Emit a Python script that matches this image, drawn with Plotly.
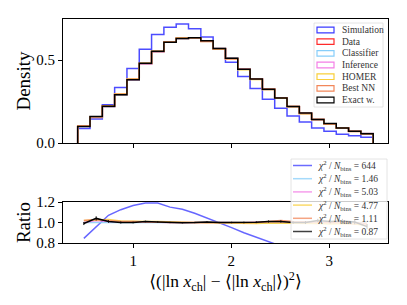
import numpy as np
import plotly.graph_objects as go

# ---------------- data ----------------
bin_edges = np.linspace(0.433, 3.449, 25)

names = ["Simulation", "Data", "Classifier", "Inference", "HOMER", "Best NN", "Exact w."]
colors = ["rgba(0,0,255,0.7)", "rgba(255,0,0,0.8)", "#87CEFA", "#F47FE6", "#F9CF3A", "#F2875A", "black"]
legend_colors = ["#3a3aff", "#ff2a2a", "#87CEFA", "#F47FE6", "#F9CF3A", "#F2875A", "black"]

sim = [0.087, 0.144, 0.231, 0.334, 0.449, 0.565, 0.654, 0.698, 0.717, 0.688, 0.638, 0.567,
       0.486, 0.401, 0.328, 0.263, 0.209, 0.162, 0.126, 0.091, 0.071, 0.053, 0.043, 0.034]
data = [0.101, 0.154, 0.219, 0.291, 0.381, 0.476, 0.549, 0.607, 0.630, 0.634, 0.613, 0.569,
        0.510, 0.445, 0.385, 0.322, 0.271, 0.219, 0.178, 0.142, 0.115, 0.091, 0.071, 0.057]
classifier = [0.101, 0.153, 0.219, 0.291, 0.381, 0.476, 0.550, 0.607, 0.630, 0.634, 0.613, 0.570,
              0.510, 0.445, 0.384, 0.322, 0.270, 0.219, 0.178, 0.142, 0.115, 0.091, 0.071, 0.057]
inference = [0.101, 0.156, 0.221, 0.293, 0.383, 0.478, 0.551, 0.608, 0.631, 0.634, 0.612, 0.568,
             0.508, 0.444, 0.386, 0.324, 0.272, 0.219, 0.177, 0.141, 0.115, 0.090, 0.070, 0.056]
homer = [0.103, 0.158, 0.225, 0.295, 0.385, 0.480, 0.552, 0.609, 0.632, 0.634, 0.612, 0.567,
         0.507, 0.442, 0.383, 0.322, 0.270, 0.218, 0.176, 0.141, 0.114, 0.090, 0.070, 0.055]
bestnn = [0.103, 0.158, 0.223, 0.294, 0.384, 0.479, 0.551, 0.608, 0.631, 0.634, 0.613, 0.568,
          0.508, 0.444, 0.385, 0.325, 0.273, 0.221, 0.179, 0.142, 0.115, 0.091, 0.071, 0.056]
exact = [0.100, 0.160, 0.221, 0.291, 0.381, 0.481, 0.552, 0.607, 0.630, 0.634, 0.616, 0.569,
         0.510, 0.445, 0.385, 0.324, 0.271, 0.220, 0.180, 0.142, 0.117, 0.091, 0.071, 0.055]
hists = [sim, data, classifier, inference, homer, bestnn, exact]

ratio_sim = [0.845, 0.96, 1.07, 1.125, 1.165, 1.19, 1.19, 1.15, 1.13, 1.09, 1.045, 1.0,
             0.95, 0.90, 0.855, 0.81, 0.77, 0.74, 0.71, 0.64, 0.62, 0.58, 0.60, 0.60]
ratio_classifier = [1.0, 1.0, 1.0, 1.0, 1.0, 1.0, 1.0, 1.0, 1.0, 1.0, 1.0, 1.0,
                    1.0, 1.0, 0.998, 1.0, 0.998, 1.0, 1.0, 1.0, 1.0, 1.0, 1.0, 1.0]
ratio_inference = [1.0, 1.02, 1.01, 1.005, 1.005, 1.005, 1.0, 1.0, 1.0, 1.0, 1.0, 0.998,
                   0.995, 0.998, 1.003, 1.005, 1.003, 1.0, 0.995, 0.99, 1.0, 0.99, 0.985, 0.98]
ratio_homer = [1.02, 1.025, 1.03, 1.015, 1.01, 1.01, 1.01, 1.005, 1.003, 1.0, 0.998, 0.995,
               0.995, 0.993, 0.99, 0.995, 0.995, 0.995, 0.99, 0.99, 0.985, 0.99, 0.985, 0.97]
ratio_bestnn = [1.02, 1.03, 1.02, 1.01, 1.01, 1.005, 1.005, 1.0, 1.0, 1.0, 1.0, 1.0,
                1.0, 1.0, 1.0, 1.01, 1.02, 1.01, 1.005, 1.0, 1.0, 1.0, 1.0, 0.99]
ratio_exact = [0.99, 1.04, 1.01, 1.0, 1.0, 1.01, 1.005, 1.0, 0.998, 1.0, 1.005, 1.0,
               1.0, 1.0, 1.003, 1.01, 1.01, 1.0, 1.0, 1.02, 1.01, 1.015, 1.005, 0.96]
ratio_exact_err = [0.015, 0.02, 0.012, 0.01, 0.008, 0.007, 0.006, 0.006, 0.006, 0.006, 0.006, 0.006,
                   0.007, 0.008, 0.009, 0.01, 0.011, 0.012, 0.014, 0.016, 0.018, 0.02, 0.022, 0.025]
ratios = [ratio_sim, ratio_classifier, ratio_inference, ratio_homer, ratio_bestnn, ratio_exact]
ratio_idx = [0, 2, 3, 4, 5, 6]
chi2 = ["644", "1.46", "5.03", "4.77", "1.11", "0.87"]

# ---------------- layout helpers ----------------
W, H = 407, 305
L, R, T, B = 63, 388, 19, 243   # plot area in pixels
def px2x(p):
    return (p - L) / (R - L)
def px2y(p):
    return (B - p) / (B - T)

FONT = "Liberation Serif, DejaVu Serif, serif"

fig = go.Figure()
centers = 0.5 * (bin_edges[:-1] + bin_edges[1:])

for name, col, h in zip(names, colors, hists):
    xs = [bin_edges[0]] + list(bin_edges) + [bin_edges[-1]]
    ys = [0] + list(h) + [h[-1], 0]
    fig.add_trace(go.Scatter(x=xs, y=ys, mode="lines", line=dict(color=col, width=1.5, shape="hv"),
                             name=name, showlegend=False, xaxis="x", yaxis="y"))

for k, (r, i) in enumerate(zip(ratios, ratio_idx)):
    extra = {}
    if names[i] == "Exact w.":
        extra = dict(error_y=dict(type="data", array=ratio_exact_err, color="black", thickness=1, width=0))
    fig.add_trace(go.Scatter(x=centers, y=r, mode="lines", line=dict(color=colors[i], width=1.5),
                             opacity=0.85 if i != 6 else 1.0,
                             name=names[i], showlegend=False, xaxis="x2", yaxis="y2", **extra))

axis_common = dict(showline=True, linecolor="black", linewidth=1, mirror=True, ticks="outside",
                   ticklen=4, tickcolor="black", showgrid=False, zeroline=False,
                   tickfont=dict(family=FONT, size=15, color="black"))

top_dom = [px2y(143), 1.0]
bot_dom = [0.0, px2y(202)]

fig.update_layout(
    width=W, height=H, margin=dict(l=L, r=W - R, t=T, b=H - B),
    paper_bgcolor="white", plot_bgcolor="white",
    font=dict(family=FONT, color="black"),
    xaxis=dict(domain=[0, 1], range=[0.283, 3.6], tickvals=[1, 2, 3], showticklabels=False,
               anchor="y", automargin=False, **axis_common),
    yaxis=dict(domain=top_dom, range=[0, 0.747], tickvals=[0, 0.5], ticktext=["0.0", "0.5"],
               title=dict(text="Density", font=dict(family=FONT, size=19), standoff=0),
               anchor="x", automargin=True, **axis_common),
    xaxis2=dict(domain=[0, 1], range=[0.283, 3.6], tickvals=[1, 2, 3], ticktext=["1", "2", "3"],
                anchor="y2", matches="x", automargin=False,
                title=dict(text="⟨(|ln <i>x</i><sub>ch</sub>| − ⟨|ln <i>x</i><sub>ch</sub>|⟩)<sup>2</sup>⟩",
                           font=dict(family=FONT, size=17.5), standoff=2),
                **axis_common),
    yaxis2=dict(domain=bot_dom, range=[0.8, 1.2], tickvals=[0.8, 1.0, 1.2], ticktext=["0.8", "1.0", "1.2"],
                title=dict(text="Ratio", font=dict(family=FONT, size=19), standoff=0),
                anchor="x2", automargin=True, **axis_common),
)

shapes = []
annotations = []

# top legend (manual, to match matplotlib's compact spacing)
shapes.append(dict(type="rect", xref="paper", yref="paper", x0=px2x(314), x1=px2x(383),
                   y0=px2y(107), y1=px2y(23), line=dict(color="#dddddd", width=0.8),
                   fillcolor="rgba(255,255,255,0.8)", layer="above"))
for k, (name, col) in enumerate(zip(names, legend_colors)):
    yc = 30 + k * 11.67
    shapes.append(dict(type="rect", xref="paper", yref="paper", x0=px2x(317), x1=px2x(334),
                       y0=px2y(yc + 2.8), y1=px2y(yc - 2.8), line=dict(color=col, width=1.2),
                       fillcolor="rgba(0,0,0,0)", layer="above"))
    annotations.append(dict(xref="paper", yref="paper", x=px2x(340), y=px2y(yc), text=name,
                            xanchor="left", yanchor="middle", showarrow=False,
                            font=dict(family=FONT, size=9.5, color="#333333")))

# ratio legend
shapes.append(dict(type="rect", xref="paper", yref="paper", x0=px2x(291), x1=px2x(387),
                   y0=px2y(239), y1=px2y(159), line=dict(color="#dddddd", width=0.8),
                   fillcolor="rgba(255,255,255,0.8)", layer="above"))
for k, i in enumerate(ratio_idx):
    yc = 165.5 + k * 13.2
    shapes.append(dict(type="line", xref="paper", yref="paper", x0=px2x(293), x1=px2x(312),
                       y0=px2y(yc), y1=px2y(yc), line=dict(color=legend_colors[i], width=1.5),
                       opacity=0.75, layer="above"))
    annotations.append(dict(xref="paper", yref="paper", x=px2x(316), y=px2y(yc),
                            text="<i>χ</i><sup>2</sup> / <i>N</i><sub>bins</sub> = " + chi2[k],
                            xanchor="left", yanchor="middle", showarrow=False,
                            font=dict(family=FONT, size=9.5, color="#333333")))

fig.update_layout(shapes=shapes, annotations=annotations)
fig.write_html("out.html", config={"displayModeBar": False},
               post_script="document.body.style.margin='0';")
